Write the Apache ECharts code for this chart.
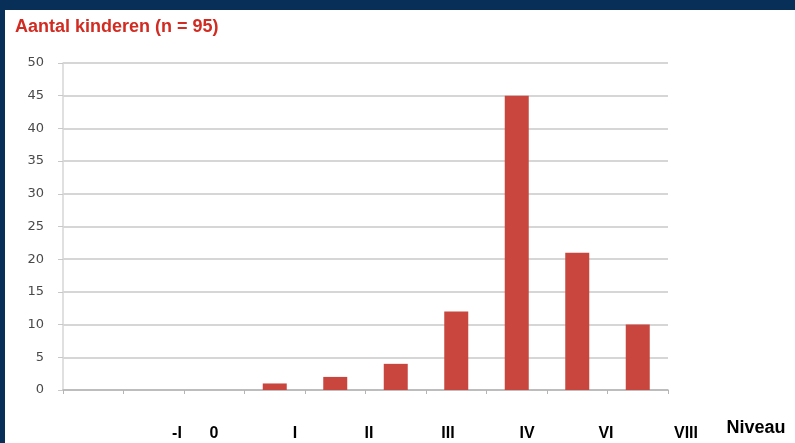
<!DOCTYPE html>
<html lang="nl">
<head>
    <meta charset="UTF-8">
    <title>Aantal kinderen</title>
    <script src="https://cdn.jsdelivr.net/npm/echarts@6/dist/echarts.min.js"></script>
    <style>
        html, body { margin: 0; padding: 0; }
    </style>
</head>
<body>
    <div id="charts1" style="width: 795px;height:443px;"></div>
    <script type="text/javascript">
        // data
        var categories = ['1', '2', '3', '4', '5', '6', '7', '8', '9', '10'];
        var counts = [0, 0, 0, 1, 2, 4, 12, 45, 21, 10];
        var yTicks = [0, 5, 10, 15, 20, 25, 30, 35, 40, 45, 50];
        var niveauLabels = ['-I', '0', 'I', 'II', 'III', 'IV', 'VI', 'VIII'];
        var niveauX = [177, 214, 295, 369, 448, 527, 606, 686];

        var myChart = echarts.init(document.getElementById('charts1'));

        var graphics = [
            { type: 'rect', z: -10, shape: { x: 5, y: 10, width: 790, height: 433 }, style: { fill: '#ffffff' } },
            { type: 'text', x: 15, y: 27, style: { text: 'Aantal kinderen (n = 95)', fill: '#d22b22', verticalAlign: 'middle', font: 'bold 18px "Liberation Sans", Arial, sans-serif' } },
            { type: 'text', x: 756, y: 428, style: { text: 'Niveau', fill: '#000', align: 'center', verticalAlign: 'middle', font: 'bold 18px "Liberation Sans", Arial, sans-serif' } }
        ];
        for (var i = 0; i < niveauLabels.length; i++) {
            graphics.push({
                type: 'text', x: niveauX[i], y: 434,
                style: { text: niveauLabels[i], fill: '#000', align: 'center', verticalAlign: 'middle', font: 'bold 16px "Liberation Sans", Arial, sans-serif' }
            });
        }

        var option = {
            backgroundColor: '#072f57',
            animation: false,
            grid: { left: 63, right: 127, top: 63, bottom: 53 },
            graphic: graphics,
            xAxis: {
                type: 'category',
                data: categories,
                axisLine: { lineStyle: { color: '#b5b5b5', width: 1.5 } },
                axisTick: { show: true, length: 4, lineStyle: { color: '#b5b5b5' } },
                axisLabel: { show: false }
            },
            yAxis: {
                type: 'value',
                min: yTicks[0],
                max: yTicks[yTicks.length - 1],
                interval: 5,
                axisLine: { show: true, lineStyle: { color: '#d6d6d6', width: 1.5 } },
                axisTick: { show: true, length: 5, lineStyle: { color: '#c8c8c8' } },
                axisLabel: { color: '#4a4a4a', fontSize: 13, margin: 19, fontFamily: 'DejaVu Sans' },
                splitLine: { lineStyle: { color: '#c9c9c9', width: 1.5 } }
            },
            series: [{
                type: 'bar',
                data: counts,
                barWidth: 24,
                itemStyle: { color: '#c9463f' }
            }]
        };
        myChart.setOption(option);
    </script>
</body>
</html>
